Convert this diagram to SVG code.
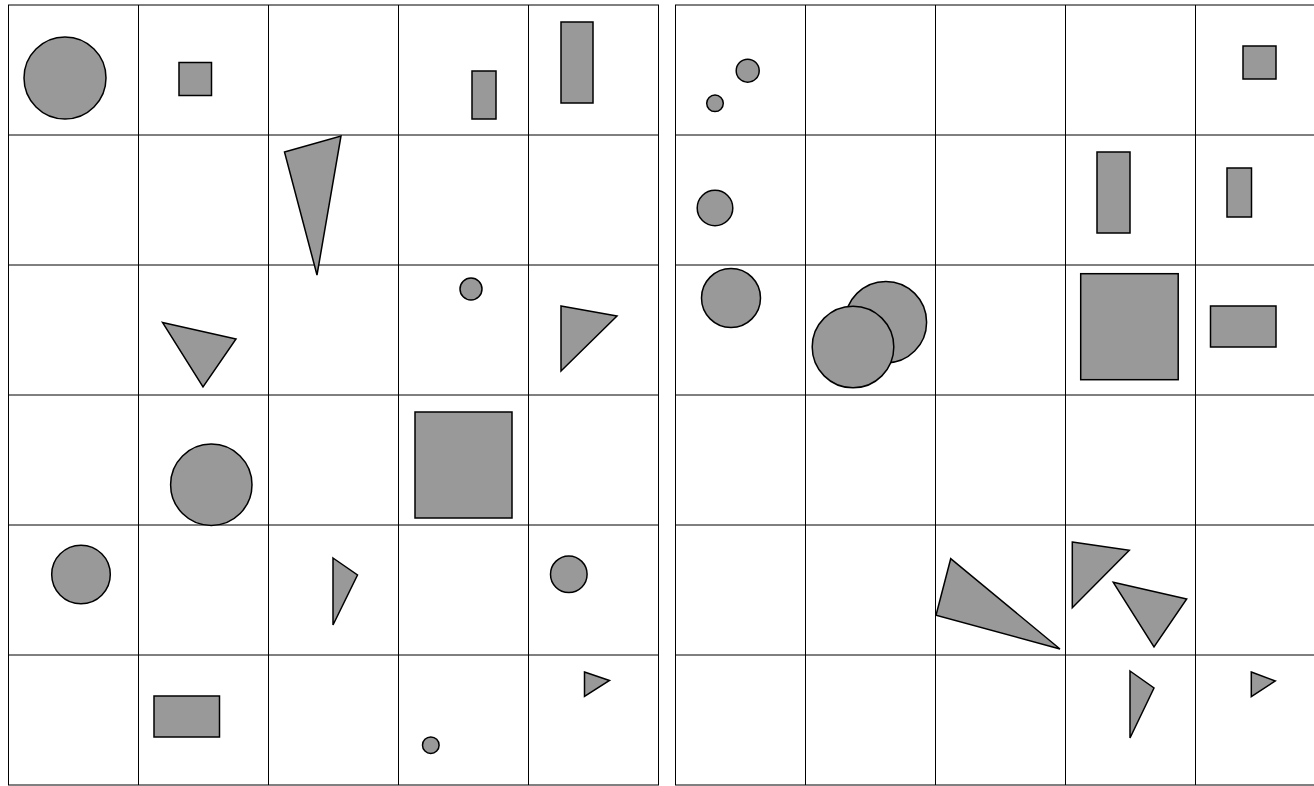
<svg xmlns="http://www.w3.org/2000/svg" width="1314" height="786" viewBox="0 0 1314 786">
<style>
.g{stroke:#000;stroke-width:1;fill:none}
.s{fill:#999;stroke:#000;stroke-width:1.5}
</style>
<rect width="1314" height="786" fill="#fff"/>
<g id="grid-left" class="g">
<path d="M8.5 5V785M138.5 5V785M268.5 5V785M398.5 5V785M528.5 5V785M658.5 5V785"/>
<path d="M8 5H659M8 135H659M8 265H659M8 395H659M8 525H659M8 655H659M8 785H659"/>
</g>
<g id="grid-right" class="g">
<path d="M675.5 5V785M805.5 5V785M935.5 5V785M1065.5 5V785M1195.5 5V785M1325.5 5V785"/>
<path d="M675 5H1326M675 135H1326M675 265H1326M675 395H1326M675 525H1326M675 655H1326M675 785H1326"/>
</g>
<g id="left-shapes">
<circle id="l-c1" class="s" cx="65" cy="78" r="41"/>
<rect id="l-r1" class="s" x="179" y="62.5" width="32.5" height="33"/>
<rect id="l-r2" class="s" x="472" y="71" width="24" height="48"/>
<rect id="l-r3" class="s" x="561" y="22" width="32" height="81"/>
<polygon id="l-t1" class="s" points="284.5,152 341,136 317,275"/>
<polygon id="l-t2" class="s" points="162.5,322.5 236,339 203,387"/>
<circle id="l-c2" class="s" cx="471" cy="289" r="11"/>
<polygon id="l-t3" class="s" points="561,306 617,316 561,371"/>
<circle id="l-c3" class="s" cx="211.3" cy="484.7" r="40.7"/>
<rect id="l-r4" class="s" x="415" y="412" width="97" height="106"/>
<circle id="l-c4" class="s" cx="81" cy="574.5" r="29.3"/>
<polygon id="l-t4" class="s" points="333,558 357.5,575 333,625"/>
<circle id="l-c5" class="s" cx="568.8" cy="574.3" r="18.3"/>
<rect id="l-r5" class="s" x="154" y="696" width="65.5" height="41"/>
<circle id="l-c6" class="s" cx="430.8" cy="745.2" r="8.3"/>
<polygon id="l-t5" class="s" points="584.5,672 609.5,680.5 584.5,696.5"/>
</g>
<g id="right-shapes">
<circle id="r-c1" class="s" cx="747.7" cy="70.7" r="11.5"/>
<circle id="r-c2" class="s" cx="715" cy="103.3" r="8.3"/>
<rect id="r-r1" class="s" x="1243" y="46" width="33" height="33"/>
<circle id="r-c3" class="s" cx="715" cy="208" r="17.8"/>
<rect id="r-r2" class="s" x="1097" y="152" width="33" height="81"/>
<rect id="r-r3" class="s" x="1227" y="168" width="24.5" height="49"/>
<circle id="r-c4" class="s" cx="731" cy="298" r="29.5"/>
<circle id="r-c5" class="s" cx="885.8" cy="322.2" r="40.8"/>
<circle id="r-c6" class="s" cx="853" cy="347" r="40.8"/>
<rect id="r-r4" class="s" x="1080.7" y="273.7" width="97.5" height="106"/>
<rect id="r-r5" class="s" x="1210.5" y="306" width="65.5" height="41"/>
<polygon id="r-t1" class="s" points="950.7,558.7 936,615.3 1060,649"/>
<polygon id="r-t2" class="s" points="1072.3,542 1129.3,550.3 1072.3,607.7"/>
<polygon id="r-t3" class="s" points="1113.3,582.3 1186.7,599 1154,647"/>
<polygon id="r-t4" class="s" points="1130,671 1154,688 1130,738"/>
<polygon id="r-t5" class="s" points="1251.3,672 1275.3,681 1251.3,696.7"/>
</g>
</svg>
